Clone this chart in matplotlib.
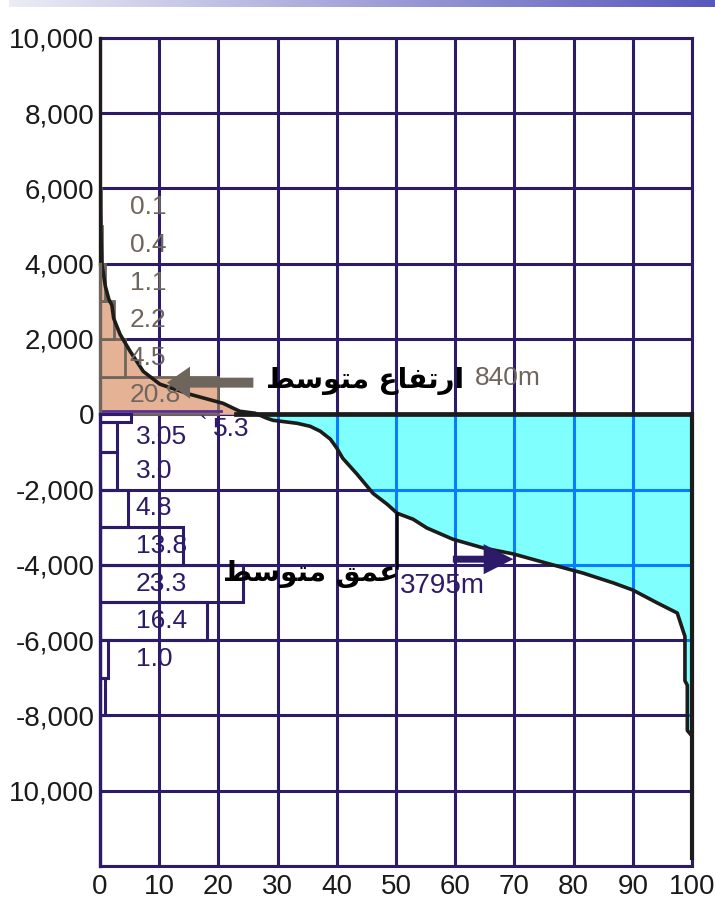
import numpy as np
import matplotlib
matplotlib.use("Agg")
import matplotlib.pyplot as plt
from matplotlib.patches import Rectangle, FancyArrow

# hypsometric curve: cumulative % of earth surface vs elevation (m)
curve_pct = [0.0, 0.3, 0.9, 1.5, 2.0, 2.3, 3.4, 5.1, 7.3, 10.1, 15.2, 20.8, 23.6,
             26.2, 28.2, 29.2, 33.3, 35.5, 37.2, 38.9, 40.0, 41.0, 42.2, 43.4,
             45.1, 46.1, 48.5, 50.2, 52.9, 55.2, 59.6, 64.7, 69.8, 76.0, 81.6,
             86.7, 90.0, 94.1, 97.5, 98.5, 98.8, 98.8, 99.2, 99.2, 100.0, 100.0]
curve_elev = [5600, 4000, 3400, 3050, 2900, 2550, 2120, 1670, 1140, 800, 530, 290,
              80, 27, -106, -160, -240, -320, -450, -660, -900, -1170, -1380,
              -1590, -1910, -2100, -2390, -2630, -2790, -3020, -3320, -3550,
              -3710, -3980, -4220, -4480, -4670, -5010, -5280, -5760, -5900,
              -7080, -7200, -8400, -8550, -11600]

# histogram above sea level (1 km bins)
land_bottom = [0, 1000, 2000, 3000, 4000, 5000]
land_width = [20.0, 4.3, 2.4, 0.8, 0.3, 0.1]
land_labels = ["20.8", "4.5", "2.2", "1.1", "0.4", "0.1"]

# histogram below sea level
sea_top = [0, -200, -1000, -2000, -3000, -4000, -5000, -6000, -7000]
sea_bottom = [-200, -1000, -2000, -3000, -4000, -5000, -6000, -7000, -8000]
sea_width = [5.3, 2.9, 2.9, 4.8, 14.0, 24.2, 18.0, 1.4, 0.9]
sea_labels = ["", "3.05", "3.0", "4.8", "13.8", "23.3", "16.4", "1.0", ""]

xticks = list(range(0, 101, 10))
yticks = [10000, 8000, 6000, 4000, 2000, 0, -2000, -4000, -6000, -8000, -10000]
ytick_labels = ["10,000", "8,000", "6,000", "4,000", "2,000", "0", "-2,000",
                "-4,000", "-6,000", "-8,000", "10,000"]

mean_height = 840
mean_depth = -3795

navy = "#2d1b69"
gray = "#6e655d"
salmon = "#e6b296"
cyan = "#80ffff"
blue = "#0a7cff"
sans = ["Liberation Sans", "DejaVu Sans"]

fig = plt.figure(figsize=(7.15, 9.06), dpi=100)

# gradient strip at the top
gax = fig.add_axes([0.012, 1 - 7 / 906, 0.988, 7 / 906])
grad = np.linspace(0, 1, 256)
c0 = np.array([236, 236, 246]) / 255
c1 = np.array([88, 88, 188]) / 255
img = (c0[None, :] * (1 - grad[:, None]) + c1[None, :] * grad[:, None])[None, :, :]
gax.imshow(img, aspect="auto")
gax.axis("off")

ax = fig.add_axes([0.1399, 0.0442, 0.828, 0.914])
ax.set_xlim(0, 100)
ax.set_ylim(-12000, 10000)

x = np.array(curve_pct)
y = np.array(curve_elev)

# grid
for xv in xticks:
    ax.axvline(xv, color=navy, lw=2.2, zorder=1)
for yv in range(-12000, 10001, 2000):
    ax.axhline(yv, color=navy, lw=2.2, zorder=1)

# land fill and ocean fill
land = ax.fill_between(x, y, 0, where=y >= 0, interpolate=True,
                       color=salmon, lw=0, zorder=2)
sea = ax.fill_between(x, y, 0, where=y <= 0, interpolate=True,
                      color=cyan, lw=0, zorder=2)
sea_path = sea.get_paths()[0]
land_path = land.get_paths()[0]
for xv in xticks:
    l = ax.axvline(xv, color=blue, lw=2.2, zorder=2.5)
    l.set_clip_path(sea_path, ax.transData)
    l2 = ax.axvline(xv, color="#6a3a9c", lw=1.5, zorder=2.5)
    l2.set_clip_path(land_path, ax.transData)
for yv in range(-12000, 10001, 2000):
    l = ax.axhline(yv, color=blue, lw=2.2, zorder=2.5)
    l.set_clip_path(sea_path, ax.transData)

# land histogram
for b, w, lab in zip(land_bottom, land_width, land_labels):
    ax.add_patch(Rectangle((0, b), w, 1000, facecolor=salmon, edgecolor=gray,
                           lw=2.0, zorder=3))
    ax.text(5.0, b + 500, lab, color=gray, fontsize=19, family=sans,
            va="center", ha="left", zorder=6)
ax.plot([0, 20.5], [80, 80], color="#5a2d9a", lw=2, zorder=3.5)

# ocean histogram
for t, bt, w, lab in zip(sea_top, sea_bottom, sea_width, sea_labels):
    ax.add_patch(Rectangle((0, bt), w, t - bt, fill=False, edgecolor=navy,
                           lw=2.2, zorder=3))
    if lab:
        ax.text(6.0, (t + bt) / 2, lab, color=navy, fontsize=19, family=sans,
                va="center", ha="left", zorder=6)
ax.text(16.8, -330, "`", color=navy, fontsize=16, family=sans,
        va="center", ha="left", zorder=6)
ax.text(19.0, -400, "5.3", color=navy, fontsize=19, family=sans,
        va="center", ha="left", zorder=6)

# curve, sea level line, right edge
ax.plot(x, y, color="#1e1c1a", lw=2.6, zorder=4)
ax.plot([23, 100], [0, 0], color="#1e1c1a", lw=3.4, zorder=4)
ax.plot([100, 100], [0, -11800], color="#1e1c1a", lw=3.0, zorder=4,
        clip_on=False)
ax.plot([50.2, 50.2], [-2630, -4080], color="black", lw=1.8, zorder=4)

# mean height arrow + text
ax.add_patch(FancyArrow(25.9, mean_height, -14.6, 0, width=265, head_width=850,
                        head_length=3.9, length_includes_head=True,
                        color=gray, lw=0, zorder=5))
ax.text(28.0, 880,
        "\uFEC2\uFEB3\uFEEE\uFE98\uFEE3 \uFEC9\uFE8E\uFED4\uFE97\uFEAD\uFE8D",
        family=["DejaVu Sans"], fontweight="bold", fontsize=20, color="black",
        va="center", ha="left", zorder=6)
ax.text(63.3, 955, "%dm" % mean_height, color=gray, fontsize=19,
        family=sans, va="center", ha="left", zorder=6)

# mean depth arrow + text
ax.add_patch(FancyArrow(59.6, -3850, 10.2, 0, width=185, head_width=800,
                        head_length=5.0, length_includes_head=True,
                        color=navy, lw=0, zorder=5))
ax.text(20.8, -4250, "\uFEC2\uFEB3\uFEEE\uFE98\uFEE3 \uFED6\uFEE4\uFECB",
        family=["DejaVu Sans"], fontweight="bold", fontsize=20, color="black",
        va="center", ha="left", zorder=6)
ax.text(50.7, -4560, "%dm" % abs(mean_depth), color=navy, fontsize=20,
        family=sans, va="center", ha="left", zorder=6)

# axes styling
for side in ["top", "right", "bottom", "left"]:
    ax.spines[side].set_color(navy)
    ax.spines[side].set_linewidth(2.2)
    ax.spines[side].set_zorder(1)
ax.spines["left"].set_visible(False)
ax.plot([0, 0], [10000, 4000], color="#1e1c1a", lw=2.4, zorder=4, clip_on=False)
ax.plot([0, 0], [4000, 0], color=gray, lw=2.4, zorder=4, clip_on=False)
ax.plot([0, 0], [0, -12000], color=navy, lw=2.4, zorder=4, clip_on=False)

ax.set_xticks(xticks)
ax.set_xticklabels([str(v) for v in xticks], family=sans, fontsize=20,
                   color="#1a1a1a")
ax.set_yticks(yticks)
ax.set_yticklabels(ytick_labels, family=sans, fontsize=20, color="#1a1a1a")
ax.tick_params(axis="x", length=0, pad=6)
ax.tick_params(axis="y", length=0, pad=4)

fig.savefig("out.png", dpi=100)
